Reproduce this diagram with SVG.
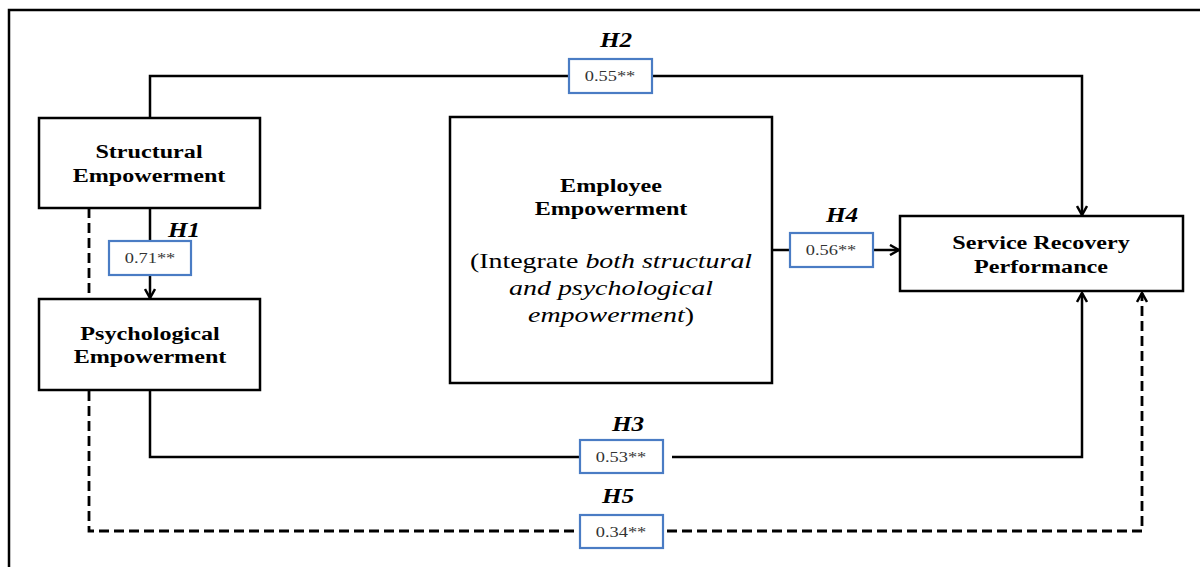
<svg xmlns="http://www.w3.org/2000/svg" width="1200" height="567" viewBox="0 0 1200 567">
<defs>
<style>
.node{fill:#fff;stroke:#000;stroke-width:2.5}
.lbl{font-family:"Liberation Serif",serif;font-weight:bold;font-size:19px;fill:#000;text-anchor:middle}
.hyp{font-family:"Liberation Serif",serif;font-weight:bold;font-style:italic;font-size:21px;fill:#000;text-anchor:middle}
.val{fill:#fff;stroke:#4a7cc4;stroke-width:2.2}
.valt{font-family:"Liberation Serif",serif;font-size:14.5px;fill:#333;text-anchor:middle}
.con{fill:none;stroke:#000;stroke-width:2.5}
.dash{stroke-width:2.8;stroke-dasharray:10,5}
.body{font-family:"Liberation Serif",serif;font-size:22px;fill:#000;text-anchor:middle}
</style>
<marker id="arr" viewBox="0 0 12 12" refX="11" refY="6" markerWidth="12" markerHeight="12" markerUnits="userSpaceOnUse" orient="auto">
<polyline points="2,1 11,6 2,11" fill="none" stroke="#000" stroke-width="2.5"/>
</marker>
</defs>
<rect width="1200" height="567" fill="#fff"/>
<path d="M9,567 V10 H1200" fill="none" stroke="#000" stroke-width="2.5"/>

<g id="connectors">
<path class="con" d="M150,117 V76 H569"/>
<path class="con" d="M652,76 H1082 V215" marker-end="url(#arr)"/>
<path class="con" d="M150,208 V241"/>
<path class="con" d="M150,275 V298" marker-end="url(#arr)"/>
<path class="con dash" d="M89,208 V299"/>
<path class="con" d="M150,391 V457 H580"/>
<path class="con" d="M672,457 H1082 V293" marker-end="url(#arr)"/>
<path class="con dash" d="M89,391 V531 H580"/>
<path class="con dash" d="M667,531 H1142 V293" marker-end="url(#arr)"/>
<path class="con" d="M772,250 H790"/>
<path class="con" d="M873,250 H899" marker-end="url(#arr)"/>
</g>

<g id="structural">
<rect class="node" x="39" y="118" width="221" height="90"/>
<g transform="translate(149,0) scale(1.27,1)">
<text class="lbl" x="0" y="158">Structural</text>
<text class="lbl" x="0" y="182">Empowerment</text>
</g>
</g>
<g id="psychological">
<rect class="node" x="39" y="299" width="221" height="91"/>
<g transform="translate(150,0) scale(1.27,1)">
<text class="lbl" x="0" y="340">Psychological</text>
<text class="lbl" x="0" y="363">Empowerment</text>
</g>
</g>
<g id="employee">
<rect class="node" x="450" y="117" width="322" height="266"/>
<g transform="translate(611,0) scale(1.27,1)">
<text class="lbl" x="0" y="192">Employee</text>
<text class="lbl" x="0" y="215">Empowerment</text>
<text class="body" x="0" y="268">(Integrate <tspan font-style="italic">both structural</tspan></text>
<text class="body" x="0" y="295" font-style="italic">and psychological</text>
<text class="body" x="0" y="322"><tspan font-style="italic">empowerment</tspan>)</text>
</g>
</g>
<g id="service">
<rect class="node" x="900" y="216" width="283" height="75"/>
<g transform="translate(1041,0) scale(1.27,1)">
<text class="lbl" x="0" y="249">Service Recovery</text>
<text class="lbl" x="0" y="273">Performance</text>
</g>
</g>

<g id="h1">
<text class="hyp" transform="translate(184,237) scale(1.2,1)">H1</text>
<rect class="val" x="109" y="241" width="82" height="34"/>
<text class="valt" transform="translate(150,263) scale(1.27,1)">0.71**</text>
</g>
<g id="h2">
<text class="hyp" transform="translate(616,47) scale(1.2,1)">H2</text>
<rect class="val" x="569" y="59" width="83" height="34"/>
<text class="valt" transform="translate(610,81) scale(1.27,1)">0.55**</text>
</g>
<g id="h3">
<text class="hyp" transform="translate(628,431) scale(1.2,1)">H3</text>
<rect class="val" x="580" y="440" width="83" height="33"/>
<text class="valt" transform="translate(621,462) scale(1.27,1)">0.53**</text>
</g>
<g id="h4">
<text class="hyp" transform="translate(842,222) scale(1.2,1)">H4</text>
<rect class="val" x="790" y="233" width="83" height="34"/>
<text class="valt" transform="translate(831,255) scale(1.27,1)">0.56**</text>
</g>
<g id="h5">
<text class="hyp" transform="translate(618,503) scale(1.2,1)">H5</text>
<rect class="val" x="580" y="515" width="83" height="33"/>
<text class="valt" transform="translate(621,537) scale(1.27,1)">0.34**</text>
</g>
</svg>
